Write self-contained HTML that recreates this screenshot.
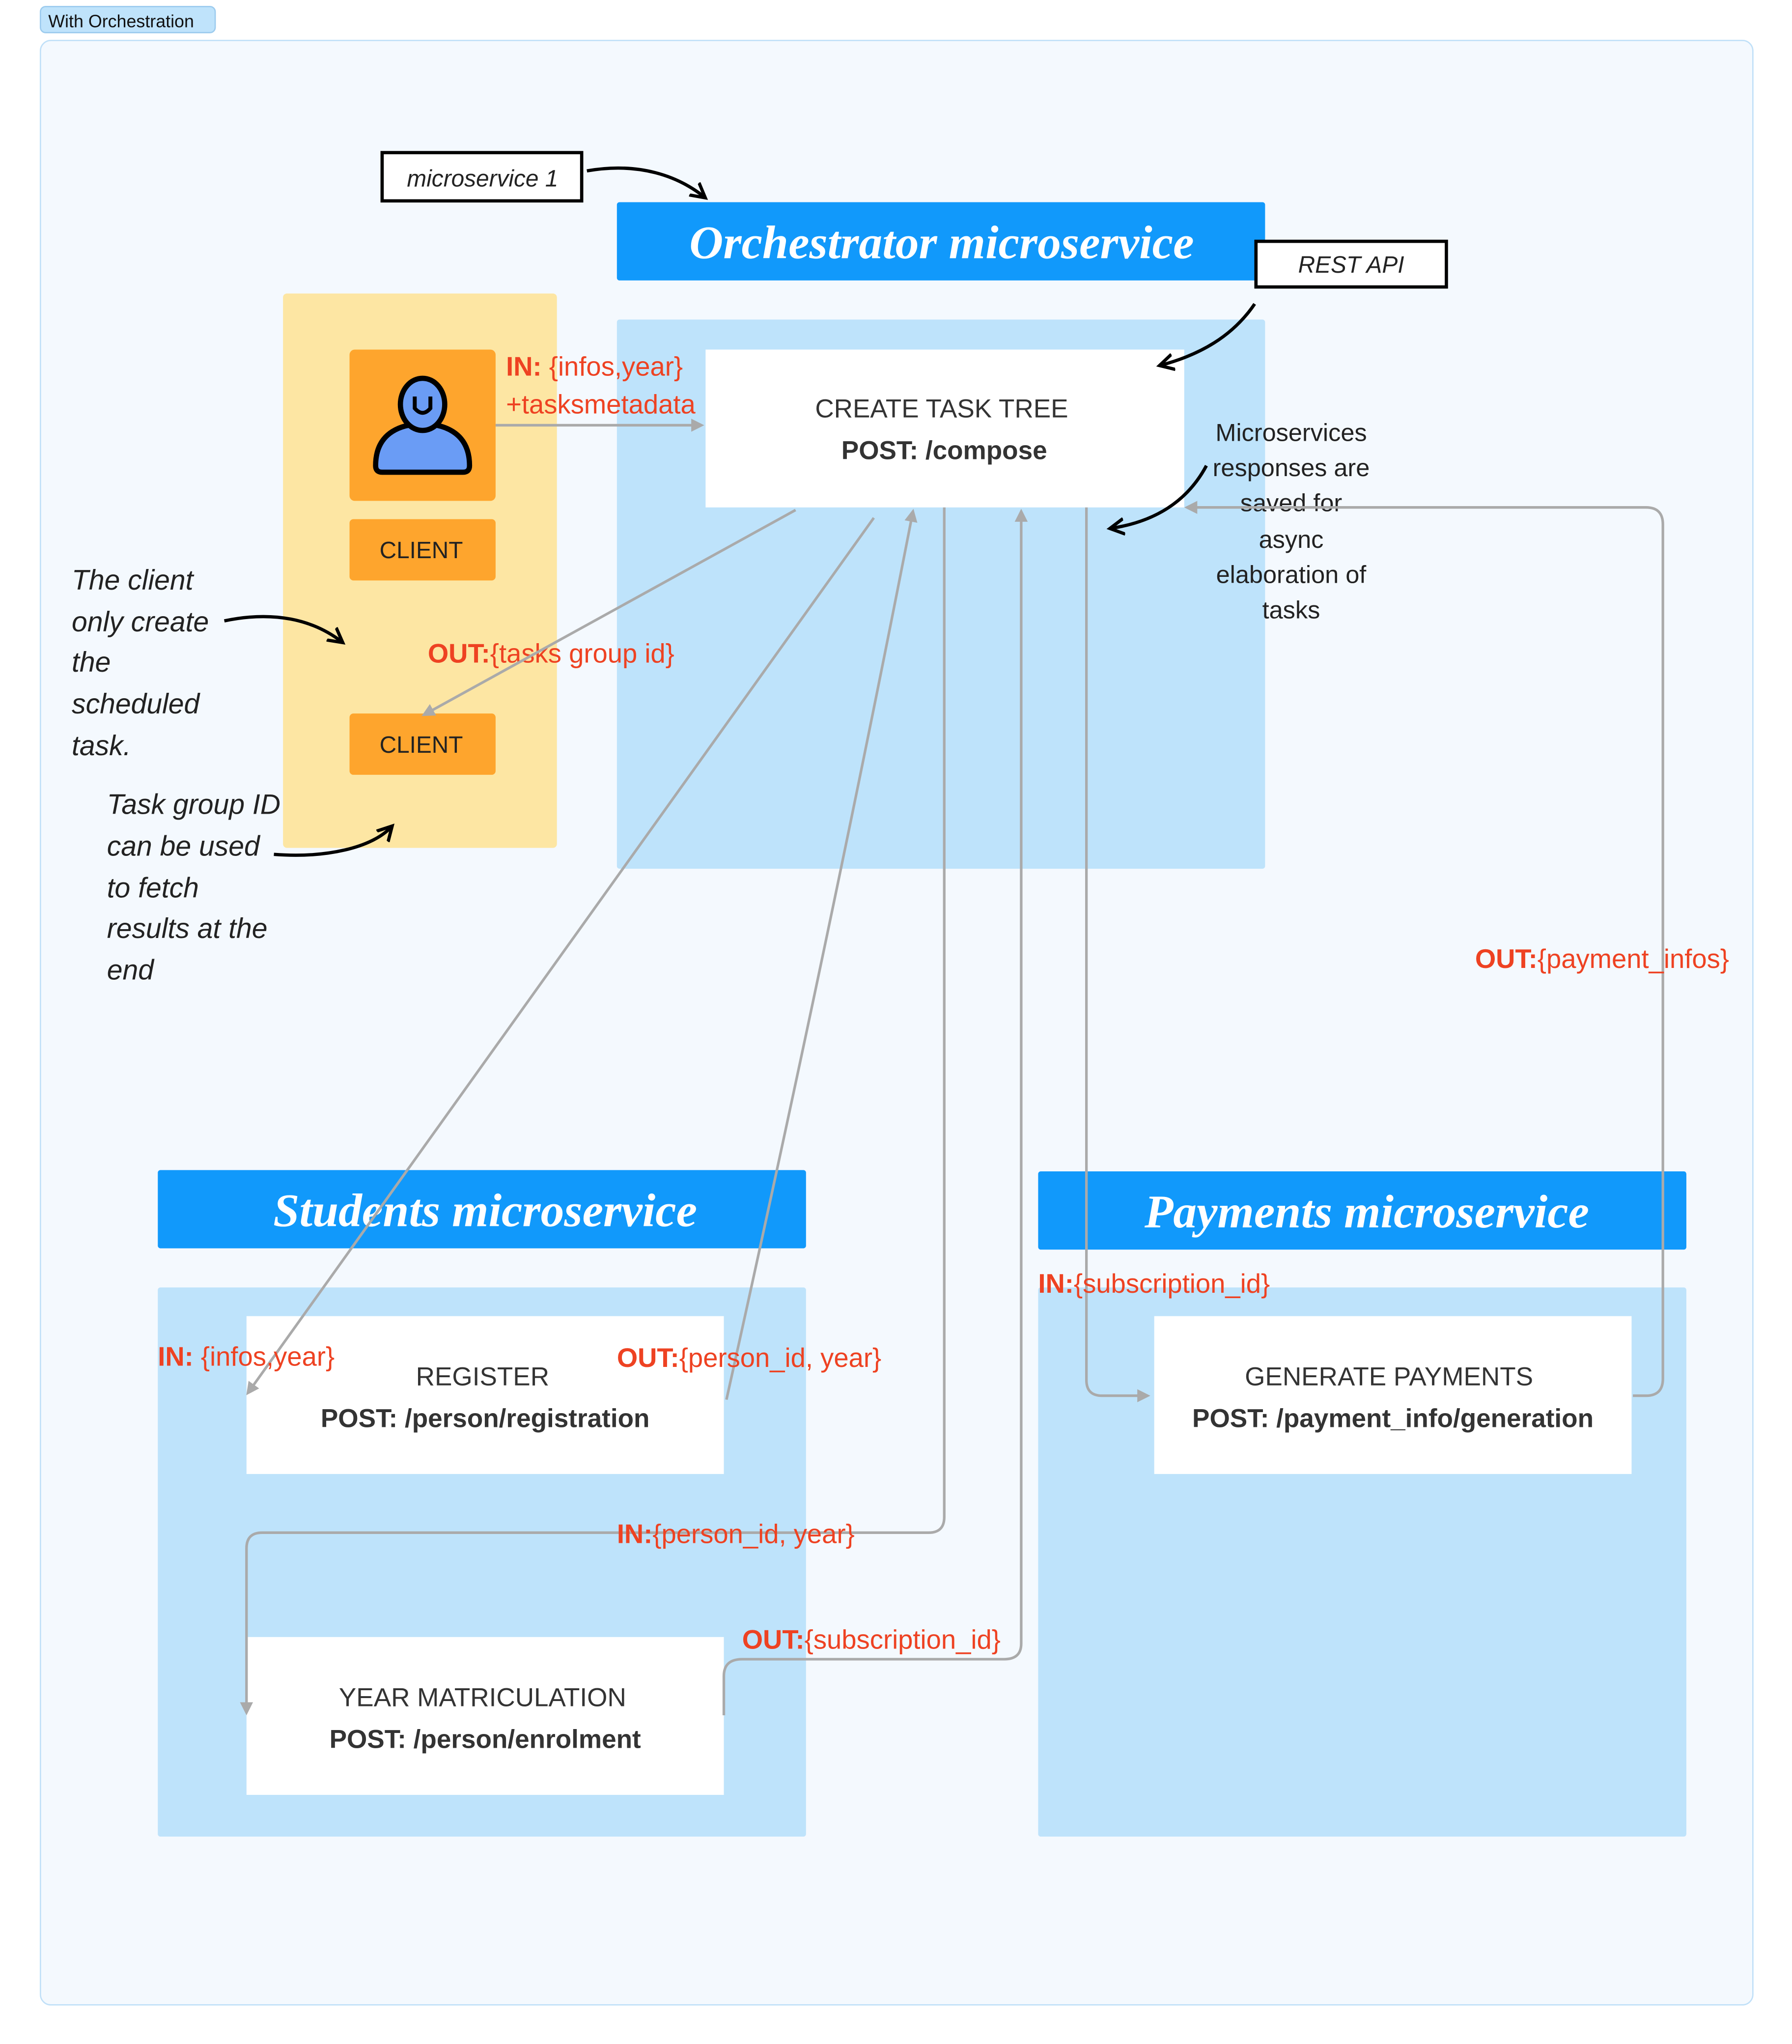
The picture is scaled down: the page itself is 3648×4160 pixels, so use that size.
<!DOCTYPE html>
<html><head><meta charset="utf-8"><style>
html,body{margin:0;padding:0;background:#fff}
svg{display:block}
text{font-family:"Liberation Sans",sans-serif}
.r{fill:#ee4222;font-size:20.5px}
.b{font-weight:bold}
.it{font-style:italic;fill:#222;font-size:21.5px}
.hd{fill:#fff;font-size:36px;font-style:italic;font-weight:bold;font-family:"Liberation Serif",serif}
.bx{fill:#333;font-size:20px}
.g{fill:none;stroke:#aaa;stroke-width:2}
.k{fill:none;stroke:#000;stroke-width:2.5}
</style></head><body>
<svg width="3648" height="4160" viewBox="0 0 1374 1567" preserveAspectRatio="none" xmlns="http://www.w3.org/2000/svg">
<defs>
<marker id="a" markerWidth="10" markerHeight="10" refX="8" refY="5" orient="auto" markerUnits="userSpaceOnUse"><path d="M0,0 L10,5 L0,10 z" fill="#aaa"/></marker>
<marker id="k" markerWidth="14" markerHeight="14" refX="10" refY="7" orient="auto" markerUnits="userSpaceOnUse"><path d="M0,1 L11,7 L0,13" fill="none" stroke="#000" stroke-width="2.5"/></marker>
</defs>
<rect x="31" y="5" width="134" height="20" rx="4" fill="#bfe3fb" stroke="#9ccbee"/>
<text x="37" y="21" font-size="13.5" fill="#111">With Orchestration</text>
<rect x="31" y="31" width="1313" height="1506" rx="8" fill="#f4f9fe" stroke="#c0e0f8"/>

<!-- orchestrator -->
<rect x="473" y="155" width="497" height="60" rx="2" fill="#1199fb"/>
<text x="722" y="198" text-anchor="middle" class="hd">Orchestrator microservice</text>
<rect x="473" y="245" width="497" height="421" rx="2" fill="#bee3fb"/>
<rect x="293" y="117" width="153" height="37" fill="#fff" stroke="#000" stroke-width="2.5"/>
<text x="370" y="143" text-anchor="middle" font-size="18" font-style="italic" fill="#222">microservice 1</text>
<rect x="963" y="185" width="146" height="35" fill="#fff" stroke="#000" stroke-width="2.5"/>
<text x="1036" y="209" text-anchor="middle" font-size="18" font-style="italic" fill="#222">REST API</text>

<!-- client panel -->
<rect x="217" y="225" width="210" height="425" rx="3" fill="#fde6a3"/>
<rect x="268" y="268" width="112" height="116" rx="4" fill="#fea52d"/>
<path d="M288,357 C288,330 310,325 324,325 C338,325 360,330 360,357 Q360,362 355,362 L293,362 Q288,362 288,357 z" fill="#6a9cf5" stroke="#000" stroke-width="4"/>
<ellipse cx="324" cy="310" rx="17" ry="20" fill="#6a9cf5" stroke="#000" stroke-width="4"/>
<path d="M318,304 L318,313 Q324,320 330,313 L330,304" fill="none" stroke="#000" stroke-width="3"/>
<rect x="268" y="398" width="112" height="47" rx="3" fill="#fea52d"/>
<text x="323" y="428" text-anchor="middle" font-size="18" fill="#222">CLIENT</text>
<rect x="268" y="547" width="112" height="47" rx="3" fill="#fea52d"/>
<text x="323" y="577" text-anchor="middle" font-size="18" fill="#222">CLIENT</text>

<!-- create task tree -->
<rect x="541" y="268" width="367" height="121" fill="#fff"/>
<text x="722" y="320" text-anchor="middle" class="bx">CREATE TASK TREE</text>
<text x="724" y="352" text-anchor="middle" class="bx b">POST: /compose</text>

<text x="388" y="288" class="r"><tspan class="b">IN:</tspan> {infos,year}</text>
<text x="388" y="317" class="r">+tasksmetadata</text>
<path class="g" d="M380,326 L538,326" marker-end="url(#a)"/>
<text x="328" y="508" class="r"><tspan class="b">OUT:</tspan>{tasks group id}</text>
<path class="g" d="M610,391 L325,548" marker-end="url(#a)"/>

<text class="it"><tspan x="55" y="452">The client</tspan><tspan x="55" y="484">only create</tspan><tspan x="55" y="515">the</tspan><tspan x="55" y="547">scheduled</tspan><tspan x="55" y="579">task.</tspan></text>
<text class="it"><tspan x="82" y="624">Task group ID</tspan><tspan x="82" y="656">can be used</tspan><tspan x="82" y="688">to fetch</tspan><tspan x="82" y="719">results at the</tspan><tspan x="82" y="751">end</tspan></text>

<text font-size="19" fill="#222" text-anchor="middle"><tspan x="990" y="338">Microservices</tspan><tspan x="990" y="365">responses are</tspan><tspan x="990" y="392">saved for</tspan><tspan x="990" y="420">async</tspan><tspan x="990" y="447">elaboration of</tspan><tspan x="990" y="474">tasks</tspan></text>

<!-- students -->
<rect x="121" y="897" width="497" height="60" rx="2" fill="#1199fb"/>
<text x="372" y="940" text-anchor="middle" class="hd">Students microservice</text>
<rect x="121" y="987" width="497" height="421" rx="2" fill="#bee3fb"/>
<rect x="189" y="1009" width="366" height="121" fill="#fff"/>
<text x="370" y="1062" text-anchor="middle" class="bx">REGISTER</text>
<text x="372" y="1094" text-anchor="middle" class="bx b">POST: /person/registration</text>
<rect x="189" y="1255" width="366" height="121" fill="#fff"/>
<text x="370" y="1308" text-anchor="middle" class="bx">YEAR MATRICULATION</text>
<text x="372" y="1340" text-anchor="middle" class="bx b">POST: /person/enrolment</text>

<!-- payments -->
<rect x="796" y="898" width="497" height="60" rx="2" fill="#1199fb"/>
<text x="1048" y="941" text-anchor="middle" class="hd">Payments microservice</text>
<rect x="796" y="987" width="497" height="421" rx="2" fill="#bee3fb"/>
<rect x="885" y="1009" width="366" height="121" fill="#fff"/>
<text x="1065" y="1062" text-anchor="middle" class="bx">GENERATE PAYMENTS</text>
<text x="1068" y="1094" text-anchor="middle" class="bx b">POST: /payment_info/generation</text>

<!-- connectors -->
<path class="g" d="M670,397 L190,1068" marker-end="url(#a)"/>
<path class="g" d="M557,1073 Q640,700 700,392" marker-end="url(#a)"/>
<path class="g" d="M724,389 L724,1163 Q724,1175 712,1175 L201,1175 Q189,1175 189,1187 L189,1313" marker-end="url(#a)"/>
<path class="g" d="M555,1315 L555,1285 Q555,1272 569,1272 L770,1272 Q783,1272 783,1260 L783,392" marker-end="url(#a)"/>
<path class="g" d="M833,389 L833,1058 Q833,1070 845,1070 L880,1070" marker-end="url(#a)"/>
<path class="g" d="M1252,1070 L1262,1070 Q1275,1070 1275,1057 L1275,402 Q1275,389 1262,389 L910,389" marker-end="url(#a)"/>

<!-- black annotation arrows on top -->
<path class="k" d="M450,131 C490,124 520,135 540,151" marker-end="url(#k)"/>
<path class="k" d="M962,233 C945,258 920,272 890,280" marker-end="url(#k)"/>
<path class="k" d="M172,476 C210,468 240,475 262,492" marker-end="url(#k)"/>
<path class="k" d="M210,655 C250,658 285,650 300,634" marker-end="url(#k)"/>
<path class="k" d="M925,357 C910,385 885,400 852,405" marker-end="url(#k)"/>

<text x="121" y="1047" class="r"><tspan class="b">IN:</tspan> {infos,year}</text>
<text x="473" y="1048" class="r"><tspan class="b">OUT:</tspan>{person_id, year}</text>
<text x="473" y="1183" class="r"><tspan class="b">IN:</tspan>{person_id, year}</text>
<text x="569" y="1264" class="r"><tspan class="b">OUT:</tspan>{subscription_id}</text>
<text x="796" y="991" class="r"><tspan class="b">IN:</tspan>{subscription_id}</text>
<text x="1131" y="742" class="r"><tspan class="b">OUT:</tspan>{payment_infos}</text>
</svg>
</body></html>
